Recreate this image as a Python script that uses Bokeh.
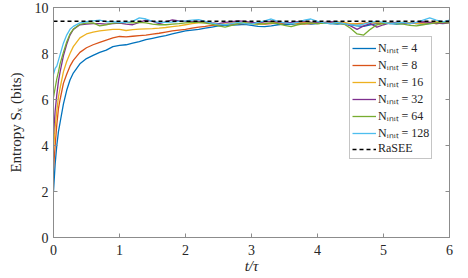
from bokeh.plotting import figure
from bokeh.models import Legend, LegendItem, LinearAxis, FixedTicker, Range1d
from bokeh.embed import file_html
from bokeh.resources import INLINE

# ---------------- data ----------------
t = [0.0, 0.025, 0.05, 0.075, 0.1, 0.15, 0.2, 0.25, 0.3, 0.4, 0.5, 0.6, 0.7, 0.8, 0.9, 1.0,
     1.1, 1.2, 1.3, 1.4, 1.5, 1.6, 1.7, 1.8, 1.9, 2.0,
     2.1, 2.2, 2.3, 2.4, 2.5, 2.6, 2.7, 2.8, 2.9, 3.0,
     3.1, 3.2, 3.3, 3.4, 3.5, 3.6, 3.7, 3.8, 3.9, 4.0,
     4.1, 4.2, 4.3, 4.4, 4.5, 4.6, 4.7, 4.8, 4.9, 5.0,
     5.1, 5.2, 5.3, 5.4, 5.5, 5.6, 5.7, 5.8, 5.9, 6.0]

s_n4 = [2.0, 3.2, 4.0, 4.6, 5.0, 5.8, 6.4, 6.85, 7.15, 7.55, 7.78, 7.92, 8.05, 8.15, 8.3, 8.35,
        8.38, 8.45, 8.52, 8.6, 8.66, 8.72, 8.78, 8.85, 8.92, 8.98,
        9.02, 9.05, 9.1, 9.15, 9.2, 9.22, 9.24, 9.25, 9.27, 9.22,
        9.18, 9.17, 9.2, 9.25, 9.28, 9.27, 9.3, 9.32, 9.28, 9.3,
        9.32, 9.3, 9.28, 9.3, 9.25, 9.2, 9.18, 9.25, 9.3, 9.32,
        9.3, 9.28, 9.3, 9.33, 9.3, 9.28, 9.3, 9.32, 9.3, 9.33]

s_n8 = [3.0, 4.0, 4.9, 5.6, 6.0, 6.7, 7.1, 7.45, 7.7, 8.05, 8.25, 8.38, 8.48, 8.58, 8.68, 8.74,
        8.72, 8.75, 8.78, 8.8, 8.84, 8.88, 8.93, 8.98, 9.02, 9.05,
        9.1, 9.15, 9.18, 9.22, 9.25, 9.27, 9.28, 9.3, 9.3, 9.32,
        9.3, 9.28, 9.3, 9.33, 9.3, 9.32, 9.3, 9.28, 9.3, 9.32,
        9.33, 9.35, 9.32, 9.3, 9.28, 9.3, 9.32, 9.35, 9.33, 9.3,
        9.32, 9.35, 9.33, 9.3, 9.32, 9.35, 9.33, 9.3, 9.32, 9.35]

s_n16 = [3.8, 4.8, 5.5, 6.1, 6.5, 7.2, 7.65, 8.0, 8.3, 8.68, 8.85, 8.93, 8.98, 9.02, 9.05, 9.05,
         9.0, 9.04, 9.06, 9.07, 9.08, 9.1, 9.13, 9.17, 9.2, 9.25,
         9.3, 9.33, 9.35, 9.32, 9.3, 9.28, 9.32, 9.35, 9.33, 9.3,
         9.28, 9.3, 9.33, 9.35, 9.32, 9.3, 9.33, 9.35, 9.33, 9.3,
         9.32, 9.35, 9.37, 9.35, 9.3, 9.28, 9.3, 9.33, 9.35, 9.33,
         9.3, 9.33, 9.35, 9.33, 9.3, 9.32, 9.35, 9.37, 9.35, 9.33]

s_n32 = [4.5, 5.5, 6.2, 6.8, 7.2, 7.9, 8.4, 8.8, 9.05, 9.25, 9.28, 9.3, 9.3, 9.28, 9.3, 9.32,
         9.28, 9.25, 9.35, 9.45, 9.4, 9.3, 9.38, 9.46, 9.42, 9.4,
         9.38, 9.4, 9.38, 9.33, 9.3, 9.35, 9.38, 9.42, 9.4, 9.35,
         9.33, 9.38, 9.4, 9.37, 9.33, 9.35, 9.38, 9.4, 9.36, 9.33,
         9.35, 9.38, 9.36, 9.3, 9.2, 9.05, 9.2, 9.3, 9.15, 9.25,
         9.33, 9.35, 9.32, 9.3, 9.35, 9.38, 9.35, 9.3, 9.33, 9.35]

s_n64 = [6.1, 6.5, 6.9, 7.2, 7.55, 8.05, 8.5, 8.85, 9.05, 9.27, 9.32, 9.33, 9.2, 9.25, 9.32, 9.33,
         9.35, 9.33, 9.35, 9.33, 9.28, 9.25, 9.25, 9.28, 9.3, 9.33,
         9.35, 9.35, 9.32, 9.28, 9.2, 9.15, 9.22, 9.3, 9.33, 9.3,
         9.28, 9.3, 9.33, 9.3, 9.22, 9.17, 9.25, 9.3, 9.33, 9.3,
         9.32, 9.3, 9.33, 9.28, 9.1, 8.85, 8.8, 9.05, 9.25, 9.3,
         9.32, 9.3, 9.28, 9.22, 9.2, 9.25, 9.3, 9.33, 9.35, 9.38]

s_n128 = [7.1, 7.35, 7.45, 7.7, 7.95, 8.45, 8.8, 9.05, 9.18, 9.33, 9.38, 9.42, 9.45, 9.38, 9.38, 9.35,
          9.35, 9.4, 9.55, 9.5, 9.4, 9.35, 9.35, 9.37, 9.4, 9.42,
          9.45, 9.47, 9.4, 9.32, 9.28, 9.25, 9.3, 9.35, 9.3, 9.28,
          9.35, 9.42, 9.5, 9.4, 9.33, 9.3, 9.35, 9.45, 9.5, 9.4,
          9.33, 9.3, 9.35, 9.3, 9.25, 9.22, 9.28, 9.35, 9.4, 9.35,
          9.3, 9.33, 9.35, 9.3, 9.35, 9.45, 9.55, 9.45, 9.38, 9.45]

rasee = 9.4

labels = ["N\u1d62\u2099\u1d62\u209c = 4", "N\u1d62\u2099\u1d62\u209c = 8",
          "N\u1d62\u2099\u1d62\u209c = 16", "N\u1d62\u2099\u1d62\u209c = 32",
          "N\u1d62\u2099\u1d62\u209c = 64", "N\u1d62\u2099\u1d62\u209c = 128"]
colors = ["#0072BD", "#D95319", "#EDB120", "#7E2F8E", "#77AC30", "#4DBEEE"]
series = [s_n4, s_n8, s_n16, s_n32, s_n64, s_n128]

x_ticks = [0, 1, 2, 3, 4, 5, 6]
y_ticks = [0, 2, 4, 6, 8, 10]

# ---------------- figure ----------------
FONT = "Liberation Serif"
AX = "#8c8c8c"
TXT = "#262626"

p = figure(width=468, height=278, output_backend="svg", toolbar_location=None,
           x_range=Range1d(0, 6), y_range=Range1d(0, 10),
           min_border_left=53, min_border_right=19, min_border_top=7, min_border_bottom=41)
p.grid.visible = False
p.outline_line_color = AX
p.background_fill_color = "white"
p.border_fill_color = "white"

for ax in (p.xaxis[0], p.yaxis[0]):
    ax.axis_line_color = AX
    ax.major_tick_line_color = AX
    ax.minor_tick_line_color = None
    ax.major_tick_in = 4
    ax.major_tick_out = 0
    ax.major_label_text_font = FONT
    ax.major_label_text_font_size = "14px"
    ax.major_label_text_color = TXT
    ax.axis_label_text_font = FONT
    ax.axis_label_text_font_size = "15px"
    ax.axis_label_text_color = TXT

p.xaxis[0].ticker = FixedTicker(ticks=x_ticks)
p.yaxis[0].ticker = FixedTicker(ticks=y_ticks)
p.xaxis[0].axis_label = "t/\u03c4"
p.xaxis[0].axis_label_text_font_style = "italic"
p.xaxis[0].axis_label_standoff = 0
p.xaxis[0].major_label_standoff = 7
p.yaxis[0].axis_label = "Entropy S\u2093 (bits)"
p.yaxis[0].axis_label_text_font_style = "normal"
p.yaxis[0].axis_label_standoff = 8
p.yaxis[0].major_label_standoff = 5

# box axes (top / right): inward ticks only, drawn as minor ticks so no labels exist
top = LinearAxis(ticker=FixedTicker(ticks=[], minor_ticks=x_ticks),
                 major_tick_line_color=None, minor_tick_in=4, minor_tick_out=0,
                 axis_line_color=AX, minor_tick_line_color=AX, major_label_standoff=0)
right = LinearAxis(ticker=FixedTicker(ticks=[], minor_ticks=y_ticks),
                   major_tick_line_color=None, minor_tick_in=4, minor_tick_out=0,
                   axis_line_color=AX, minor_tick_line_color=AX, major_label_standoff=0)
p.add_layout(top, "above")
p.add_layout(right, "right")

items = []
for s, c, lab in zip(series, colors, labels):
    r = p.line(t, s, line_color=c, line_width=1.3)
    items.append(LegendItem(label=lab, renderers=[r]))

rr = p.line([t[0], t[-1]], [rasee, rasee], line_color="black", line_width=1.5, line_dash="4 3")
items.append(LegendItem(label="RaSEE", renderers=[rr]))

legend = Legend(items=items, location=(296, 78), padding=2, spacing=0, margin=0,
                label_height=10, glyph_height=10, glyph_width=24, label_standoff=2,
                label_text_font=FONT, label_text_font_size="12px", label_text_color=TXT,
                label_text_line_height=1.0,
                border_line_color=AX, background_fill_alpha=1.0)
p.add_layout(legend)

open("out.html", "w").write(file_html(p, INLINE))
